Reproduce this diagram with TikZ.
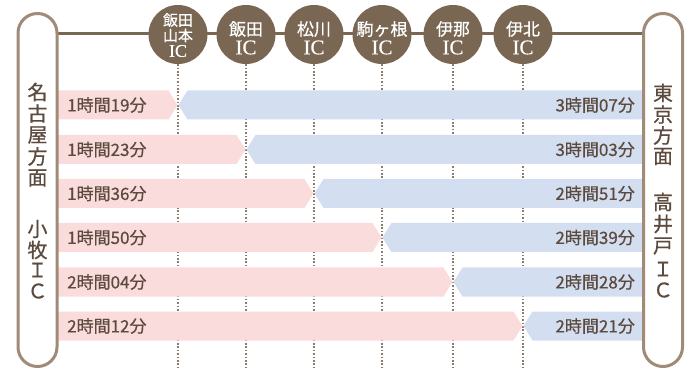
\documentclass[tikz,border=0pt]{standalone}
\usepackage{fontspec}
\setmainfont{Noto Sans CJK JP}
\newfontfamily\medfont[FakeBold=0.6]{Noto Sans CJK JP}
\newfontfamily\icfont[FakeBold=0.3]{Liberation Serif}
\definecolor{brn}{HTML}{7A6753}
\definecolor{pillb}{HTML}{A08A78}
\definecolor{txt}{HTML}{5B4A3D}
\definecolor{pinkf}{HTML}{FADCDC}
\definecolor{bluef}{HTML}{D3DEF0}
\definecolor{dotc}{HTML}{8C7C6E}
\tikzset{
  pillbox/.style={draw=pillb, line width=3pt, fill=white, rounded corners=19.5pt,
    minimum width=39pt, minimum height=353pt, inner sep=0pt},
  iccirc/.style={circle, fill=brn, minimum size=59pt, inner sep=0pt},
  icjp/.style={text=white, font=\medfont\fontsize{17}{17}\selectfont, inner sep=0pt},
  icjps/.style={text=white, font=\medfont\fontsize{15}{15}\selectfont, inner sep=0pt},
  iclat/.style={text=white, font=\icfont\fontsize{21}{21}\selectfont, inner sep=0pt},
  iclats/.style={text=white, font=\icfont\fontsize{18}{18}\selectfont, inner sep=0pt},
  dotline/.style={draw=dotc, line width=1.4pt, dash pattern=on 1.6pt off 1.8pt},
  mainline/.style={draw=brn, line width=2.2pt},
  timetxt/.style={text=txt, font=\medfont\fontsize{17}{17}\selectfont, inner sep=0pt},
  piltxt/.style={text=txt, font=\medfont\fontsize{20}{20}\selectfont, inner sep=0pt},
}
\begin{document}
\begin{tikzpicture}[x=1pt,y=-1pt]
\useasboundingbox (0,0) rectangle (693,371);
\coordinate (bot) at (0,368);
% main line
\coordinate (lineL) at (57,33.5);
\coordinate (lineR) at (644,33.5);
\draw[mainline] (lineL) -- (lineR);
% IC circles
\node[iccirc] (ic1) at (178,34.5) {};
\node[iccirc] (ic2) at (246,34.5) {};
\node[iccirc] (ic3) at (314,34.5) {};
\node[iccirc] (ic4) at (382,34.5) {};
\node[iccirc] (ic5) at (453,34.5) {};
\node[iccirc] (ic6) at (523,34.5) {};
% dotted lines
\foreach \i in {1,...,6} {
  \draw[dotline] (ic\i.south) -- (ic\i.south |- bot);
}
% circle labels
\node[icjps] (t1a) at (178,20) {飯田};
\node[icjps] (t1b) at (178,35.5) {山本};
\node[iclats] (t1c) at (178,51) {IC};
\node[icjp] (t2a) at (246,29) {飯田};
\node[iclat] (t2b) at (246,47.5) {IC};
\node[icjp] (t3a) at (314,29) {松川};
\node[iclat] (t3b) at (314,47.5) {IC};
\node[icjp] (t4a) at (382,29) {駒ヶ根};
\node[iclat] (t4b) at (382,47.5) {IC};
\node[icjp] (t5a) at (453,29) {伊那};
\node[iclat] (t5b) at (453,47.5) {IC};
\node[icjp] (t6a) at (523,29) {伊北};
\node[iclat] (t6b) at (523,47.5) {IC};
% bars
\foreach \X/\Y/\L/\R [count=\k] in {
  178/105/1時間19分/3時間07分,
  246/149.5/1時間23分/3時間03分,
  314/193.5/1時間36分/2時間51分,
  382/237.5/1時間50分/2時間39分,
  453/282/2時間04分/2時間28分,
  523/326/2時間12分/2時間21分} {
  \fill[pinkf] (58,\Y-14.5) -- (\X-9.5,\Y-14.5) -- (\X-0.5,\Y) -- (\X-9.5,\Y+14.5) -- (58,\Y+14.5) -- cycle;
  \fill[bluef] (\X+9.5,\Y-14.5) -- (643,\Y-14.5) -- (643,\Y+14.5) -- (\X+9.5,\Y+14.5) -- (\X+0.5,\Y) -- cycle;
  \node[timetxt, anchor=west] (lt\k) at (67,\Y) {\L};
  \node[timetxt, anchor=east] (rt\k) at (635,\Y) {\R};
}
% pills
\node[pillbox] (leftpill) at (37.5,190) {};
\node[pillbox] (rightpill) at (663,190) {};
\foreach \c/\y [count=\k] in {名/92,古/113.5,屋/135,方/156.5,面/178,小/229,牧/250,Ｉ/270,Ｃ/291} {
  \node[piltxt] (lp\k) at (37.5,\y) {\c};
}
\foreach \c/\y [count=\k] in {東/93,京/114.5,方/135.5,面/156.5,高/202,井/224,戸/246,Ｉ/269,Ｃ/290} {
  \node[piltxt] (rp\k) at (663,\y) {\c};
}
\end{tikzpicture}
\end{document}
